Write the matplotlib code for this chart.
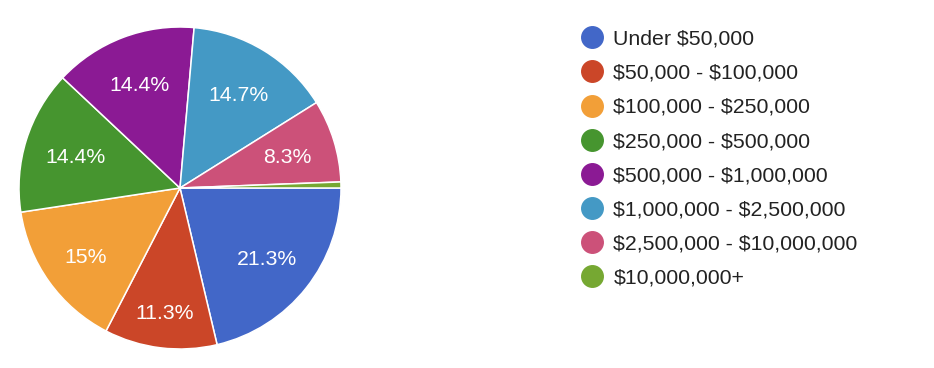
import numpy as np
import matplotlib.pyplot as plt
from matplotlib.lines import Line2D

plt.rcParams['font.family'] = ['Liberation Sans', 'DejaVu Sans']
plt.rcParams['text.parse_math'] = False

categories = ['Under $50,000', '$50,000 - $100,000', '$100,000 - $250,000',
              '$250,000 - $500,000', '$500,000 - $1,000,000',
              '$1,000,000 - $2,500,000', '$2,500,000 - $10,000,000',
              '$10,000,000+']
shares = [21.3, 11.3, 15.0, 14.4, 14.4, 14.7, 8.3, 0.6]
pct_labels = ['21.3%', '11.3%', '15%', '14.4%', '14.4%', '14.7%', '8.3%', '']
colors = ['#4267C8', '#CB4628', '#F29F38', '#46952F',
          '#8B1A94', '#4499C5', '#CC5179', '#76A832']

fig = plt.figure(figsize=(9.34, 3.68), dpi=100)
ax = fig.add_axes([19 / 934, 19 / 368, 322 / 934, 322 / 368])

wedges, _ = ax.pie(shares, colors=colors, startangle=0, counterclock=False,
                   radius=1, wedgeprops=dict(edgecolor='white', linewidth=1.1))

# percentage labels inside the wedges (narrow wedges get pushed outward)
label_r = [0.69, 0.77, 0.72, 0.68, 0.70, 0.69, 0.70, 0.7]
cum = np.cumsum([0] + shares[:-1])
for start, val, lab, r in zip(cum, shares, pct_labels, label_r):
    if not lab:
        continue
    mid = np.deg2rad(-(start + val / 2) * 3.6)
    ax.text(r * np.cos(mid), r * np.sin(mid) - 0.015, lab, ha='center', va='center',
            color='white', fontsize=15.3)

ax.set_xlim(-1, 1)
ax.set_ylim(-1, 1)
ax.set_aspect('equal')
ax.axis('off')

handles = [Line2D([], [], marker='o', linestyle='none', markersize=15.5,
                  markerfacecolor=c, markeredgecolor=c) for c in colors]
fig.legend(handles, categories, loc='upper left', bbox_to_anchor=(0.6225, 0.919),
           frameon=False, fontsize=15.3, handlelength=1.0, handletextpad=0.5,
           labelspacing=0.71, borderpad=0, borderaxespad=0, labelcolor='#222222')

fig.savefig('out.png', dpi=100)
